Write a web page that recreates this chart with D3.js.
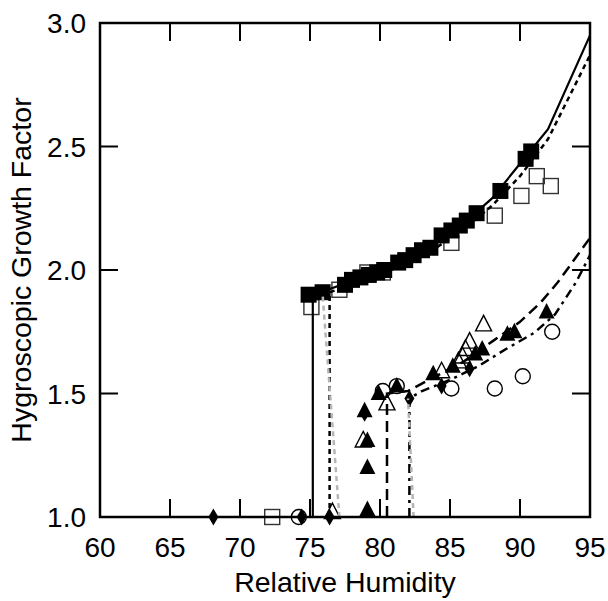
<!DOCTYPE html>
<html>
<head>
<meta charset="utf-8">
<script src="https://cdn.jsdelivr.net/npm/d3@7"></script>
<style>
body { margin: 0; background: #fff; }
text { font-family: "Liberation Sans", Arial, sans-serif; }
</style>
</head>
<body>
<svg id="chart" width="608" height="601"></svg>
<script>
// data: [RH, growth factor]
var filledSquares = [[74.9,1.90],[75.9,1.91],[77.5,1.94],[78.0,1.96],[78.6,1.97],[79.2,1.98],[79.8,1.99],[80.3,2.00],[81.3,2.03],[81.8,2.04],[82.4,2.06],[83.0,2.08],[83.6,2.09],[84.4,2.14],[85.1,2.16],[85.7,2.18],[86.2,2.20],[86.9,2.23],[88.6,2.32],[90.4,2.45],[90.8,2.48]];
var openSquares = [[72.3,1.00],[75.1,1.85],[77.1,1.92],[79.1,1.99],[80.2,1.99],[85.1,2.11],[88.2,2.22],[90.1,2.30],[91.2,2.38],[92.2,2.34]];
var filledTriangles = [[79.1,1.03],[79.1,1.20],[79.1,1.31],[78.9,1.43],[79.9,1.50],[81.2,1.53],[83.8,1.58],[85.2,1.61],[86.8,1.66],[87.3,1.68],[89.1,1.74],[89.6,1.75],[91.9,1.83]];
var openTriangles = [[76.6,1.02],[78.8,1.31],[80.5,1.46],[84.4,1.59],[85.6,1.63],[85.9,1.65],[86.1,1.68],[86.4,1.71],[87.4,1.78]];
var openCircles = [[74.2,1.00],[80.2,1.51],[81.2,1.53],[85.1,1.52],[88.2,1.52],[90.2,1.57],[92.3,1.75]];
var diamonds = [[68.1,1.00],[74.4,1.00],[76.4,1.00],[78.9,1.42],[82.1,1.48],[84.4,1.53],[86.4,1.60]];

var solidLine = [[75.2,1.0],[75.2,1.9],[76,1.915],[78,1.955],[80,1.995],[82,2.045],[84,2.11],[86,2.19],[88,2.29],[90,2.43],[92,2.57],[95,2.95]];
var shortDashLine = [[76.4,1.0],[76.4,1.91],[78,1.94],[80,1.98],[82,2.03],[84,2.09],[86,2.165],[88,2.26],[90,2.38],[92,2.53],[95,2.87]];
var grayLine1 = [[77.1,1.0],[75.9,1.9]];
var longDashLine = [[80.5,1.0],[80.5,1.5],[82,1.51],[84,1.57],[86,1.63],[88,1.71],[90,1.79],[91.5,1.87],[92.7,1.95],[95,2.13]];
var dashDotLine = [[82.1,1.0],[82.1,1.48],[83,1.51],[85,1.555],[87,1.61],[89,1.68],[91,1.745],[92.5,1.82],[94,1.95],[95,2.06]];
var grayLine2 = [[82.4,1.0],[82.0,1.48]];

var xTicks = [60,65,70,75,80,85,90,95];
var yTicks = [1.0,1.5,2.0,2.5,3.0];

var svg = d3.select("#chart");
var mLeft = 100, mRight = 590, mTop = 23, mBottom = 517;
var x = d3.scaleLinear().domain([60,95]).range([mLeft,mRight]);
var y = d3.scaleLinear().domain([1,3]).range([mBottom,mTop]);

var plot = svg.append("g");
var tickLen = 18;

// ticks inside on all sides
plot.selectAll(".xt").data(xTicks).enter().append("line")
	.attr("x1",function(d){return x(d);}).attr("x2",function(d){return x(d);})
	.attr("y1",mBottom).attr("y2",mBottom-tickLen).attr("stroke","#000").attr("stroke-width",2);
plot.selectAll(".xt2").data(xTicks).enter().append("line")
	.attr("x1",function(d){return x(d);}).attr("x2",function(d){return x(d);})
	.attr("y1",mTop).attr("y2",mTop+tickLen).attr("stroke","#000").attr("stroke-width",2);
plot.selectAll(".yt").data(yTicks).enter().append("line")
	.attr("x1",mLeft).attr("x2",mLeft+tickLen)
	.attr("y1",function(d){return y(d);}).attr("y2",function(d){return y(d);}).attr("stroke","#000").attr("stroke-width",2);
plot.selectAll(".yt2").data(yTicks).enter().append("line")
	.attr("x1",mRight).attr("x2",mRight-tickLen)
	.attr("y1",function(d){return y(d);}).attr("y2",function(d){return y(d);}).attr("stroke","#000").attr("stroke-width",2);

// tick labels
svg.selectAll(".xl").data(xTicks).enter().append("text")
	.attr("x",function(d){return x(d);}).attr("y",557)
	.attr("text-anchor","middle").attr("font-size",28).text(function(d){return d;});
svg.selectAll(".yl").data(yTicks).enter().append("text")
	.attr("x",mLeft-14).attr("y",function(d){return y(d)+10;})
	.attr("text-anchor","end").attr("font-size",28).text(function(d){return d3.format(".1f")(d);});

svg.append("text").attr("x",(mLeft+mRight)/2).attr("y",592).attr("text-anchor","middle")
	.attr("font-size",28.5).text("Relative Humidity");
svg.append("text").attr("transform","translate(31,"+((mTop+mBottom)/2)+") rotate(-90)")
	.attr("text-anchor","middle").attr("font-size",28.5).text("Hygroscopic Growth Factor");

// markers
var sq = 15;
plot.selectAll(".os").data(openSquares).enter().append("rect")
	.attr("x",function(d){return x(d[0])-sq/2;}).attr("y",function(d){return y(d[1])-sq/2;})
	.attr("width",sq).attr("height",sq).attr("fill","none").attr("stroke","#333").attr("stroke-width",1.4);

plot.selectAll(".fs").data(filledSquares).enter().append("rect")
	.attr("x",function(d){return x(d[0])-8;}).attr("y",function(d){return y(d[1])-8;})
	.attr("width",16).attr("height",16).attr("fill","#000");

function tri(d){
	var cx = x(d[0]), cy = y(d[1]);
	return "M"+cx+","+(cy-9)+"L"+(cx+8)+","+(cy+6.5)+"L"+(cx-8)+","+(cy+6.5)+"Z";
}
plot.selectAll(".ot").data(openTriangles).enter().append("path")
	.attr("d",tri).attr("fill","none").attr("stroke","#000").attr("stroke-width",1.4);
plot.selectAll(".ft").data(filledTriangles).enter().append("path")
	.attr("d",tri).attr("fill","#000");

plot.selectAll(".dm").data(diamonds).enter().append("path")
	.attr("d",function(d){
		var cx = x(d[0]), cy = y(d[1]);
		return "M"+cx+","+(cy-8.5)+"L"+(cx+5)+","+cy+"L"+cx+","+(cy+8.5)+"L"+(cx-5)+","+cy+"Z";
	}).attr("fill","#000");

plot.selectAll(".oc").data(openCircles).enter().append("circle")
	.attr("cx",function(d){return x(d[0]);}).attr("cy",function(d){return y(d[1]);})
	.attr("r",7.5).attr("fill","none").attr("stroke","#000").attr("stroke-width",1.4);

// model lines
var line = d3.line().x(function(d){return x(d[0]);}).y(function(d){return y(d[1]);});
function drawLine(data, color, dash, width){
	plot.append("path").datum(data).attr("d",line).attr("fill","none")
		.attr("stroke",color).attr("stroke-width",width).attr("stroke-dasharray",dash);
}
drawLine(solidLine,"#000",null,2.2);
drawLine(shortDashLine,"#000","5,4",2.5);
drawLine(grayLine1,"#b5b5b5","5,4",2.5);
drawLine(longDashLine,"#000","11,6",2.5);
drawLine(dashDotLine,"#000","9,5,3,5",2.5);
drawLine(grayLine2,"#b5b5b5","5,4",2.5);

// frame
svg.append("rect").attr("x",mLeft).attr("y",mTop).attr("width",mRight-mLeft).attr("height",mBottom-mTop)
	.attr("fill","none").attr("stroke","#000").attr("stroke-width",2.5);
</script>
</body>
</html>
